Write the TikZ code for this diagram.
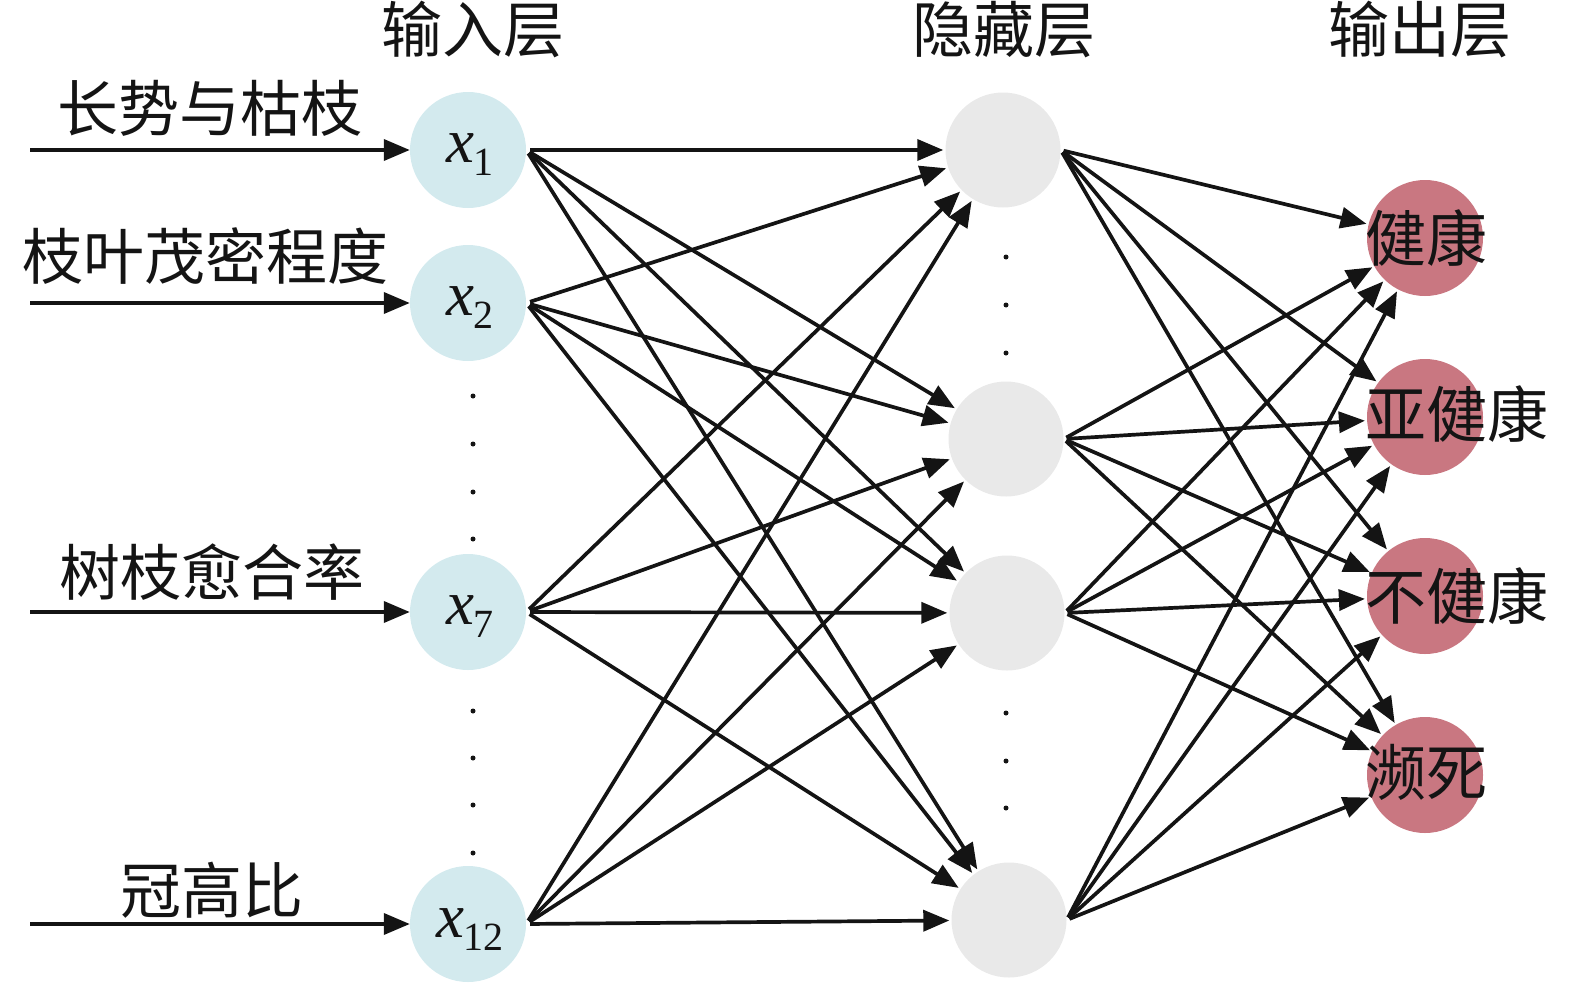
\documentclass[tikz,border=0pt]{standalone}
\usepackage{fontspec}
\setmainfont{Liberation Serif}
\newfontfamily\cjk{Noto Sans CJK SC}
\usetikzlibrary{arrows.meta}
\definecolor{inblue}{RGB}{211,234,238}
\definecolor{hidgray}{RGB}{233,233,233}
\definecolor{outred}{RGB}{201,119,129}
\definecolor{ink}{RGB}{20,20,20}
\newcommand\xlab[1]{{\fontsize{63}{63}\selectfont\itshape x}\raisebox{-13pt}{\fontsize{40}{40}\selectfont #1}}
\begin{document}
\begin{tikzpicture}[x=1pt,y=-1pt,
  inode/.style={circle,fill=inblue,minimum size=116pt,inner sep=0pt},
  hnode/.style={circle,fill=hidgray,minimum size=115pt,inner sep=0pt},
  onode/.style={circle,fill=outred,minimum size=116pt,inner sep=0pt},
  cjktext/.style={font=\cjk\fontsize{61}{61}\selectfont,text=ink,inner sep=0pt},
  xtext/.style={text=ink,inner sep=0pt,anchor=base},
  arr/.style={draw=ink,line width=3.7pt,-{Triangle[length=26pt,width=21pt]},shorten >=2pt},
  dotmark/.style={circle,fill=ink,inner sep=0pt,minimum size=5pt}
]
\useasboundingbox (0,0) rectangle (1575,988);

% layer titles
\node[cjktext] (tin) at (473,30) {输入层};
\node[cjktext] (thid) at (1004,30) {隐藏层};
\node[cjktext] (tout) at (1420,30) {输出层};

% input nodes
\node[inode] (x1) at (468,150) {};
\node[inode] (x2) at (468,303) {};
\node[inode] (x7) at (468,612) {};
\node[inode] (x12) at (468,924) {};
\node[xtext] (x1t) at (470,162) {\xlab{1}};
\node[xtext] (x2t) at (470,315) {\xlab{2}};
\node[xtext] (x7t) at (470,624) {\xlab{7}};
\node[xtext] (x12t) at (470,937) {\xlab{12}};

% hidden nodes
\node[hnode] (h1) at (1003,150) {};
\node[hnode] (h2) at (1006,439) {};
\node[hnode] (h3) at (1007,613) {};
\node[hnode] (h4) at (1009,920) {};

% output nodes
\node[onode] (o1) at (1425,238) {};
\node[onode] (o2) at (1425,417) {};
\node[onode] (o3) at (1425,596) {};
\node[onode] (o4) at (1425,775) {};

% input labels and arrows
\coordinate (s1) at (30,150);
\coordinate (s2) at (30,303);
\coordinate (s7) at (30,612);
\coordinate (s12) at (30,924);
\node[cjktext] (l1) at (210,108) {长势与枯枝};
\node[cjktext] (l2) at (206,256) {枝叶茂密程度};
\node[cjktext] (l7) at (212,572) {树枝愈合率};
\node[cjktext] (l12) at (212,890) {冠高比};
\foreach \s/\t in {s1/x1,s2/x2,s7/x7,s12/x12}
  \draw[arr,shorten >=0pt] (\s) -- (\t.west);

% dots
\foreach \yy [count=\k] in {396,444,492,539,711,758,805,853}
  \node[dotmark] (di\k) at (473,\yy) {};
\foreach \yy [count=\k] in {257,305,353,713,761,808}
  \node[dotmark] (dh\k) at (1006,\yy) {};

% connections input -> hidden
\foreach \i in {x1,x2,x7,x12}
  \foreach \j in {h1,h2,h3,h4}
    \draw[arr,shorten <=4pt] (\i.east) -- (\j);

% connections hidden -> output
\foreach \i in {h1,h2,h3,h4}
  \foreach \j in {o1,o2,o3,o4}
    \draw[arr,shorten <=3pt] (\i.east) -- (\j);

% output labels
\node[cjktext,anchor=west] (ol1) at (1365,238) {健康};
\node[cjktext,anchor=west] (ol2) at (1365,414) {亚健康};
\node[cjktext,anchor=west] (ol3) at (1365,596) {不健康};
\node[cjktext,anchor=west] (ol4) at (1365,772) {濒死};
\end{tikzpicture}
\end{document}
